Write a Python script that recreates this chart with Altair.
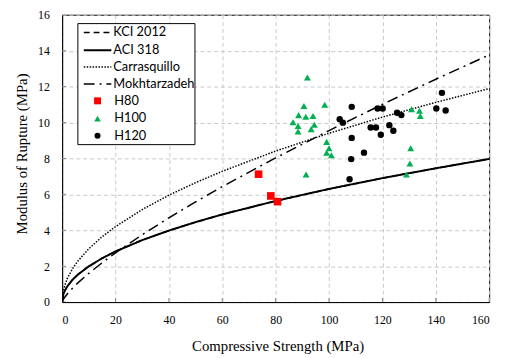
import altair as alt
import pandas as pd

# ---- model curves ----
curve_x = [0, 0.5, 1, 2, 4, 6, 10, 15, 20, 30, 40, 50, 60, 80, 100, 120, 140, 160]
kci_y = [0, 0.45, 0.63, 0.89, 1.26, 1.54, 1.99, 2.44, 2.82, 3.45, 3.98, 4.45, 4.88, 5.63, 6.30, 6.90, 7.45, 7.97]
aci_y = [0, 0.45, 0.63, 0.89, 1.26, 1.54, 1.99, 2.44, 2.82, 3.45, 3.98, 4.45, 4.88, 5.63, 6.30, 6.90, 7.45, 7.97]
carr_y = [0, 0.66, 0.94, 1.33, 1.88, 2.30, 2.97, 3.64, 4.20, 5.15, 5.95, 6.65, 7.28, 8.41, 9.40, 10.30, 11.12, 11.89]
mokh_y = [0, 0.16, 0.27, 0.46, 0.79, 1.08, 1.60, 2.19, 2.74, 3.75, 4.69, 5.58, 6.43, 8.03, 9.55, 11.01, 12.41, 13.76]

# ---- test data ----
h80_x = [73.6, 78.2, 80.7]
h80_y = [7.12, 5.91, 5.59]

h100_x = [91.9, 90.6, 98.4, 88.6, 91.3, 94.0, 86.5, 88.4, 88.4, 94.5, 93.3, 99.1, 100.0, 99.1, 100.9, 91.4,
          130.9, 133.9, 134.2, 130.6, 130.3, 129.0]
h100_y = [12.51, 10.92, 10.99, 10.41, 10.32, 10.36, 10.01, 9.81, 9.50, 9.87, 9.63, 8.92, 8.56, 8.32, 8.17, 7.10,
          10.74, 10.65, 10.36, 8.56, 7.72, 7.10]

h120_x = [108.5, 104.0, 105.2, 108.5, 113.1, 108.3, 107.7, 118.2, 120.1, 115.6, 117.6, 119.4,
          122.6, 124.1, 125.5, 127.1, 140.2, 142.3, 143.7]
h120_y = [10.87, 10.18, 9.99, 9.14, 8.32, 7.96, 6.84, 10.78, 10.78, 9.72, 9.72, 9.32,
          9.85, 9.54, 10.54, 10.41, 10.78, 11.65, 10.67]

x_ticks = [0, 20, 40, 60, 80, 100, 120, 140, 160]
y_ticks = [0, 2, 4, 6, 8, 10, 12, 14, 16]
legend_labels = ["KCI 2012", "ACI 318", "Carrasquillo", "Mokhtarzadeh", "H80", "H100", "H120"]

X_TITLE = "Compressive Strength (MPa)"
Y_TITLE = "Modulus of Rupture (MPa)"

SERIF = "Liberation Serif"

xs = alt.Scale(domain=[0, 160], nice=False)
ys = alt.Scale(domain=[0, 16], nice=False)

xaxis = alt.Axis(values=x_ticks, title=X_TITLE, labelPadding=13,
                 titleX=219, titleY=44, titleBaseline="middle", titleAlign="center")
yaxis = alt.Axis(values=y_ticks, title=Y_TITLE, labelPadding=13,
                 titleX=-41, titleY=141, titleBaseline="middle", titleAlign="center", titleAngle=270)

curve_df = pd.DataFrame({"x": curve_x, "kci": kci_y, "aci": aci_y, "carr": carr_y, "mokh": mokh_y})

def curve(col, dash, width):
    return alt.Chart(curve_df).mark_line(color="black", strokeDash=dash, strokeWidth=width, clip=True).encode(
        x=alt.X("x:Q", scale=xs, axis=xaxis),
        y=alt.Y(f"{col}:Q", scale=ys, axis=yaxis),
        order="x:Q",
    )

kci = curve("kci", [6, 4], 1.5)
aci = curve("aci", [1, 0], 2)
carr = curve("carr", [1.5, 1.5], 1.5)
mokh = curve("mokh", [11, 5, 2, 5], 1.5)

def pts(xv, yv, shape, color, size):
    df = pd.DataFrame({"x": xv, "y": yv})
    return alt.Chart(df).mark_point(shape=shape, filled=True, color=color, size=size, opacity=1).encode(
        x=alt.X("x:Q", scale=xs, axis=xaxis),
        y=alt.Y("y:Q", scale=ys, axis=yaxis),
    )

p80 = pts(h80_x, h80_y, "square", "#ff0000", 60)
p100 = pts(h100_x, h100_y, "triangle-up", "#00b050", 50)
p120 = pts(h120_x, h120_y, "circle", "black", 42)

# ---- inward tick marks ----
xt = alt.Chart(pd.DataFrame({"t": x_ticks})).mark_tick(
    orient="vertical", size=8, thickness=1, color="#888888", clip=True, opacity=1).encode(
    x=alt.X("t:Q", scale=xs, axis=xaxis), y=alt.value(292))
yt = alt.Chart(pd.DataFrame({"t": y_ticks})).mark_tick(
    orient="horizontal", size=8, thickness=1, color="#888888", clip=True, opacity=1).encode(
    y=alt.Y("t:Q", scale=ys, axis=yaxis), x=alt.value(0))

# ---- manual legend ----
one = pd.DataFrame({"k": [0]})
box = alt.Chart(one).mark_rect(fill="white", stroke="black", strokeWidth=1).encode(
    x=alt.value(16), x2=alt.value(135), y=alt.value(9), y2=alt.value(132))

rows = [18, 36, 53, 70.5, 87.5, 105.5, 123]
leg = [box]
dashes = [[6, 4], [1, 0], [1.5, 1.5], [11, 5, 2, 5]]
widths = [1.5, 2, 1.5, 1.5]
for i in range(4):
    leg.append(alt.Chart(one).mark_rule(color="black", strokeDash=dashes[i], strokeWidth=widths[i]).encode(
        x=alt.value(22), x2=alt.value(50), y=alt.value(rows[i])))
    leg.append(alt.Chart(one).mark_text(text=legend_labels[i], align="left", baseline="middle",
                                        font="Lato", fontSize=13, color="black").encode(
        x=alt.value(52), y=alt.value(rows[i])))
marks = [("square", "#ff0000", 50), ("triangle-up", "#00b050", 45), ("circle", "black", 38)]
for j in range(3):
    i = 4 + j
    sh, col, sz = marks[j]
    leg.append(alt.Chart(one).mark_point(shape=sh, filled=True, color=col, size=sz, opacity=1).encode(
        x=alt.value(36), y=alt.value(rows[i])))
    leg.append(alt.Chart(one).mark_text(text=legend_labels[i], align="left", baseline="middle",
                                        font="Lato", fontSize=13, color="black").encode(
        x=alt.value(53), y=alt.value(rows[i])))

chart = alt.layer(xt, yt, kci, aci, carr, mokh, p80, p100, p120, *leg).properties(
    width=434, height=292,
    autosize=alt.AutoSizeParams(type="none"),
    padding={"left": 55, "top": 4, "right": 10, "bottom": 54},
    background="white",
).configure_view(
    stroke="black", strokeWidth=1
).configure_axis(
    grid=True, gridDash=[4, 3], gridColor="#c8c8c8", gridWidth=1,
    domainColor="black", ticks=False, tickSize=0,
    labelFont=SERIF, labelFontSize=12, labelColor="black",
    titleFont=SERIF, titleFontSize=15, titleFontWeight="normal", titleColor="black",
)

chart.save("out.html", embed_options={"renderer": "svg", "actions": False})
